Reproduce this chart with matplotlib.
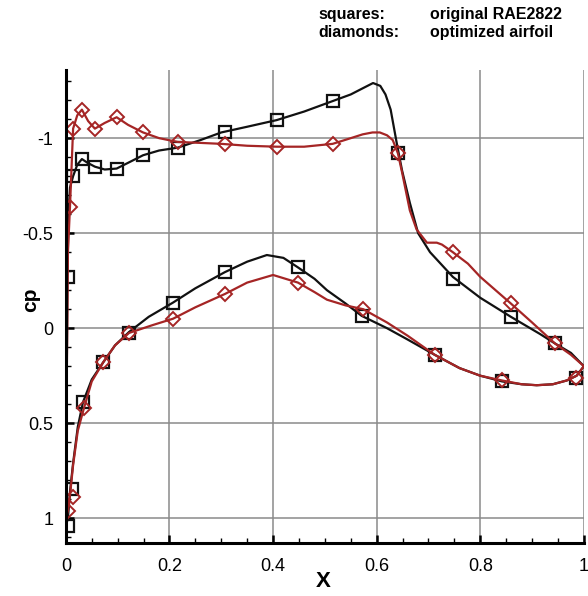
import numpy as np
import matplotlib
matplotlib.use("Agg")
import matplotlib.pyplot as plt
from matplotlib.ticker import MultipleLocator

plt.rcParams['font.family'] = ['Liberation Sans', 'DejaVu Sans']
plt.rcParams['axes.unicode_minus'] = False

# original RAE2822 - upper surface line
orig_up_x = [0.0, 0.001, 0.002, 0.003, 0.005, 0.008, 0.014, 0.022, 0.031, 0.042, 0.056, 0.075,
             0.098, 0.12, 0.149, 0.18, 0.216, 0.26, 0.30, 0.35, 0.407, 0.46, 0.515, 0.55,
             0.575, 0.593, 0.607, 0.617, 0.627, 0.639, 0.649, 0.664, 0.68, 0.703, 0.747,
             0.80, 0.859, 0.915, 0.944, 0.975, 1.0]
orig_up_cp = [1.04, 0.6, 0.15, -0.27, -0.6, -0.74, -0.80, -0.86, -0.89, -0.87, -0.85, -0.835,
              -0.84, -0.87, -0.91, -0.935, -0.95, -0.99, -1.03, -1.06, -1.095, -1.14, -1.195, -1.23,
              -1.265, -1.29, -1.275, -1.23, -1.15, -0.97, -0.83, -0.66, -0.50, -0.40, -0.27,
              -0.16, -0.06, 0.03, 0.08, 0.13, 0.20]
# original RAE2822 - lower surface line
orig_lo_x = [0.0, 0.004, 0.008, 0.014, 0.023, 0.033, 0.05, 0.072, 0.095, 0.122, 0.16, 0.207,
             0.25, 0.307, 0.35, 0.388, 0.42, 0.448, 0.48, 0.504, 0.54, 0.571, 0.62, 0.66,
             0.712, 0.76, 0.80, 0.842, 0.88, 0.909, 0.94, 0.967, 0.986, 1.0]
orig_lo_cp = [1.04, 1.0, 0.86, 0.71, 0.52, 0.39, 0.27, 0.18, 0.09, 0.02, -0.06, -0.135,
              -0.21, -0.295, -0.35, -0.385, -0.37, -0.32, -0.26, -0.20, -0.13, -0.065, 0.0, 0.06,
              0.14, 0.21, 0.25, 0.28, 0.295, 0.30, 0.295, 0.275, 0.25, 0.20]
# square symbols
orig_sym_x = [0.005, 0.014, 0.031, 0.056, 0.098, 0.149, 0.216, 0.307, 0.407, 0.515, 0.641,
              0.747, 0.859, 0.944,
              0.005, 0.011, 0.033, 0.072, 0.122, 0.207, 0.307, 0.448, 0.571, 0.712, 0.842, 0.985]
orig_sym_cp = [-0.27, -0.80, -0.89, -0.85, -0.84, -0.91, -0.95, -1.03, -1.095, -1.195, -0.92,
               -0.26, -0.06, 0.08,
               1.04, 0.845, 0.39, 0.18, 0.025, -0.135, -0.295, -0.32, -0.065, 0.14, 0.28, 0.26]

# optimized airfoil - upper surface line
opt_up_x = [0.0, 0.002, 0.004, 0.008, 0.014, 0.022, 0.031, 0.043, 0.056, 0.075, 0.098, 0.12,
            0.149, 0.18, 0.216, 0.26, 0.30, 0.35, 0.407, 0.46, 0.515, 0.55, 0.573, 0.592, 0.606,
            0.62, 0.631, 0.641, 0.649, 0.664, 0.677, 0.697, 0.716, 0.726, 0.747, 0.776, 0.80,
            0.859, 0.90, 0.944, 0.975, 1.0]
opt_up_cp = [0.98, 0.2, -0.4, -0.64, -1.05, -1.12, -1.15, -1.09, -1.05, -1.08, -1.11, -1.07,
             -1.03, -1.0, -0.98, -0.975, -0.97, -0.96, -0.955, -0.955, -0.97, -1.0, -1.02, -1.03,
             -1.03, -1.015, -0.99, -0.92, -0.82, -0.62, -0.52, -0.45, -0.45, -0.44, -0.40, -0.34,
             -0.27, -0.13, -0.03, 0.08, 0.14, 0.20]
# optimized airfoil - lower surface line
opt_lo_x = [0.0, 0.004, 0.008, 0.014, 0.023, 0.035, 0.05, 0.072, 0.095, 0.122, 0.166, 0.207,
            0.25, 0.307, 0.35, 0.40, 0.448, 0.48, 0.504, 0.54, 0.574, 0.62, 0.66, 0.712,
            0.76, 0.80, 0.842, 0.88, 0.909, 0.94, 0.967, 0.986, 1.0]
opt_lo_cp = [1.0, 0.96, 0.88, 0.72, 0.54, 0.42, 0.28, 0.18, 0.09, 0.025, -0.015, -0.05,
             -0.11, -0.18, -0.24, -0.28, -0.24, -0.19, -0.15, -0.12, -0.10, -0.03, 0.04, 0.14,
             0.21, 0.25, 0.275, 0.295, 0.30, 0.295, 0.275, 0.25, 0.20]
# diamond symbols
opt_sym_x = [0.008, 0.014, 0.031, 0.056, 0.098, 0.149, 0.216, 0.307, 0.407, 0.515, 0.641,
             0.747, 0.859, 0.944,
             0.004, 0.014, 0.035, 0.072, 0.122, 0.207, 0.307, 0.448, 0.574, 0.712, 0.842, 0.985]
opt_sym_cp = [-0.64, -1.05, -1.15, -1.05, -1.11, -1.03, -0.98, -0.97, -0.955, -0.97, -0.92,
              -0.40, -0.13, 0.08,
              0.96, 0.89, 0.42, 0.18, 0.025, -0.05, -0.18, -0.24, -0.10, 0.14, 0.275, 0.26]

xticks = [0, 0.2, 0.4, 0.6, 0.8, 1]
xtick_labels = ['0', '0.2', '0.4', '0.6', '0.8', '1']
yticks = [-1, -0.5, 0, 0.5, 1]
ytick_labels = ['-1', '-0.5', '0', '0.5', '1']

black = '#111111'
red = '#a52525'

fig = plt.figure(figsize=(5.88, 5.96), dpi=100)
ax = fig.add_axes([0.112, 0.089, 0.881, 0.794])

ax.grid(True, color='#8a8a8a', linewidth=1.1)
ax.set_axisbelow(True)

ax.plot(orig_up_x, orig_up_cp, color=black, lw=1.6)
ax.plot(orig_lo_x, orig_lo_cp, color=black, lw=1.6)
ax.plot(orig_sym_x, orig_sym_cp, ls='none', marker='s', ms=8.5, mfc='none',
        mec=black, mew=1.6)

ax.plot(opt_up_x, opt_up_cp, color=red, lw=1.6)
ax.plot(opt_lo_x, opt_lo_cp, color=red, lw=1.6)
ax.plot(opt_sym_x, opt_sym_cp, ls='none', marker='D', ms=7.5, mfc='none',
        mec=red, mew=1.4)

ax.set_xlim(0, 1)
ax.set_ylim(1.13, -1.36)

ax.set_xticks(xticks)
ax.set_xticklabels(xtick_labels)
ax.set_yticks(yticks)
ax.set_yticklabels(ytick_labels)
ax.xaxis.set_minor_locator(MultipleLocator(0.05))
ax.yaxis.set_minor_locator(MultipleLocator(0.1))
ax.tick_params(which='major', direction='in', length=6, width=1.8, labelsize=13)
ax.tick_params(axis='x', which='major', pad=11)
ax.tick_params(axis='y', which='major', pad=9)
ax.tick_params(which='minor', direction='in', length=3.5, width=1)

for side in ['top', 'right']:
    ax.spines[side].set_visible(False)
for side in ['left', 'bottom']:
    ax.spines[side].set_linewidth(2.2)

ax.set_xlabel('X', fontsize=16, fontweight='bold')
ax.xaxis.set_label_coords(0.497, -0.06)
ax.set_ylabel('cp', fontsize=15, fontweight='bold')
ax.yaxis.set_label_coords(-0.05, 0.514)

fig.text(0.541, 0.975, 'squares:', fontsize=11.5, fontweight='bold', va='center')
fig.text(0.731, 0.975, 'original RAE2822', fontsize=11.5, fontweight='bold', va='center')
fig.text(0.541, 0.946, 'diamonds:', fontsize=11.5, fontweight='bold', va='center')
fig.text(0.731, 0.946, 'optimized airfoil', fontsize=11.5, fontweight='bold', va='center')

fig.savefig('out.png', dpi=100)
